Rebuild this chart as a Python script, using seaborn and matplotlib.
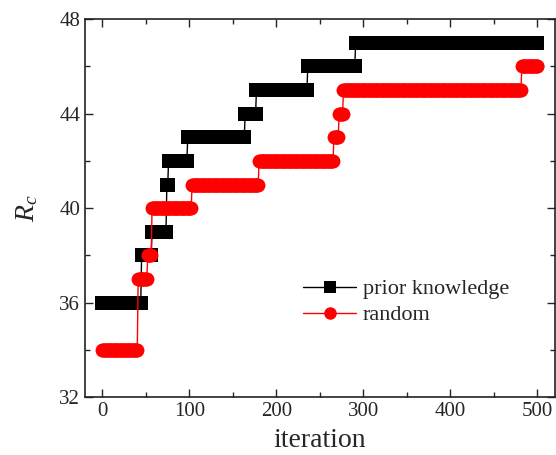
import numpy as np
import pandas as pd
import matplotlib
matplotlib.use('Agg')
import matplotlib.pyplot as plt
import seaborn as sns
from matplotlib.ticker import MultipleLocator

# Best-so-far R_c as (first iteration, level) steps
iterations = np.arange(0, 501)

prior_start = [0, 45, 57, 74, 76, 98, 164, 177, 236, 291]
prior_level = [36, 38, 39, 41, 42, 43, 44, 45, 46, 47]

random_start = [0, 41, 52, 57, 103, 180, 266, 272, 277, 482]
random_level = [34, 37, 38, 40, 41, 42, 43, 44, 45, 46]

def expand(starts, levels):
    idx = np.searchsorted(starts, iterations, side='right') - 1
    return np.array(levels)[idx]

df = pd.concat([
    pd.DataFrame({'iteration': iterations, 'Rc': expand(prior_start, prior_level), 'method': 'prior knowledge'}),
    pd.DataFrame({'iteration': iterations, 'Rc': expand(random_start, random_level), 'method': 'random'}),
])

sns.set_style('ticks')
plt.rcParams['font.family'] = ['Liberation Serif', 'DejaVu Serif']
plt.rcParams['mathtext.fontset'] = 'custom'
plt.rcParams['mathtext.rm'] = 'Liberation Serif'
plt.rcParams['mathtext.it'] = 'Liberation Serif:italic'

fig = plt.figure(figsize=(5.56, 4.55), dpi=100)
ax = fig.add_axes([0.153, 0.127, 0.845, 0.831])

sns.lineplot(data=df, x='iteration', y='Rc', hue='method', style='method',
             palette={'prior knowledge': 'black', 'random': 'red'},
             markers={'prior knowledge': 's', 'random': 'o'}, dashes=False,
             estimator=None, linewidth=1.0, markersize=10, markeredgewidth=0,
             ax=ax)

ax.set_xlim(-20, 520)
ax.set_ylim(32, 48)
ax.xaxis.set_major_locator(MultipleLocator(100))
ax.xaxis.set_minor_locator(MultipleLocator(50))
ax.yaxis.set_major_locator(MultipleLocator(4))
ax.yaxis.set_minor_locator(MultipleLocator(2))
ax.tick_params(which='both', direction='in', top=True, right=True, width=1, labelsize=15)
ax.tick_params(which='major', length=6)
ax.tick_params(which='minor', length=3.5)
for s in ax.spines.values():
    s.set_linewidth(1.2)
    s.set_color('#222222')

ax.set_xlabel('iteration', fontsize=20, labelpad=5)
ax.set_ylabel('$R_c$', fontsize=20, labelpad=14)

handles, labels = ax.get_legend_handles_labels()
for h in handles:
    h.set_markersize(9)
ax.legend(handles, labels, loc='center left', bbox_to_anchor=(0.545, 0.336),
          bbox_transform=fig.transFigure, frameon=False, fontsize=16,
          handlelength=2.4, handletextpad=0.3, labelspacing=0.25,
          borderpad=0, borderaxespad=0)

fig.savefig('out.png', dpi=100)
